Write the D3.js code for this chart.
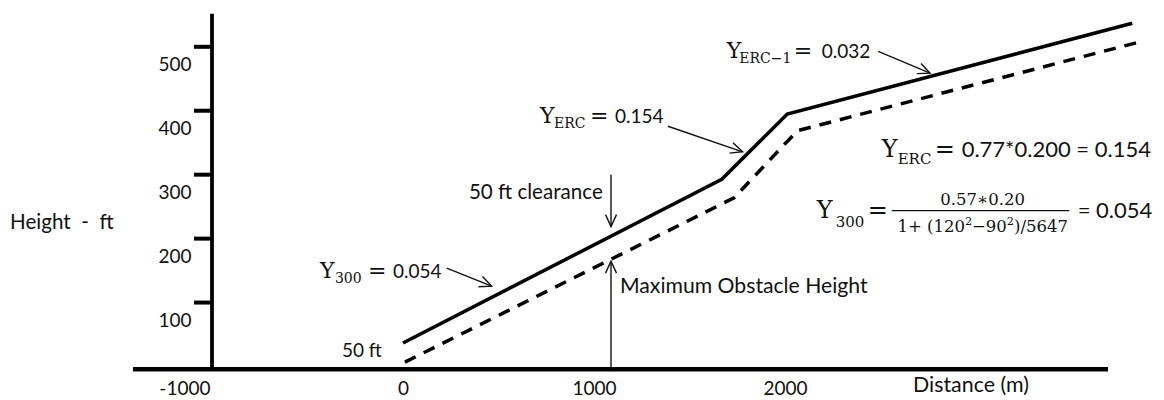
<!DOCTYPE html>
<html><head><meta charset="utf-8">
<script src="https://cdn.jsdelivr.net/npm/d3@7"></script>
<style>
body{margin:0;background:#fff}
svg{display:block}
.sans{font-family:Lato,"Open Sans",sans-serif;fill:#111}
.serif{font-family:"DejaVu Serif",serif;fill:#111}
</style>
</head><body>
<svg id="c" width="1164" height="400"></svg>
<script>
// ---------- data ----------
const yTickValues = [100, 200, 300, 400, 500];
const xTickValues = [-1000, 0, 1000, 2000];
const xTickLabels = ["-1000", "0", "1000", "2000"];
// 50 ft clearance surface (solid)
const surfaceDistance = [0, 1669, 2012, 3818];
const surfaceHeight   = [36, 292, 394, 536];
// maximum obstacle height profile (dashed)
const obstacleDistance = [10, 1733, 2065, 3845];
const obstacleHeight   = [6, 263, 368, 506];
// axis extents (data units)
const xAxisExtent = [-1414, 3691];
const yAxisExtent = [-5, 551];
// annotation arrows (data units: distance m, height ft)
const arrowFrom = [[1089, 299], [1089, -5], [229, 153], [1387, 375], [2488, 492]];
const arrowTo   = [[1089, 218], [1089, 164], [464, 125], [1778, 335], [2759, 458]];
// plain annotation labels
const noteText   = ["50 ft", "50 ft clearance", "Maximum Obstacle Height"];
const noteAt     = [[-111, 14], [345, 261], [1136, 114]];
const noteAnchor = ["end", "start", "start"];
const noteSize   = [19, 20.6, 21.2];

// ---------- scales ----------
const x = d3.scaleLinear().domain([-1000, 2000]).range([212, 785]);
const y = d3.scaleLinear().domain([0, 500]).range([366, 46.3]);

const svg = d3.select("#c");
const defs = svg.append("defs");
defs.append("marker").attr("id", "ah")
  .attr("viewBox", "-13 -7 15 14").attr("refX", 0).attr("refY", 0)
  .attr("markerUnits", "userSpaceOnUse").attr("markerWidth", 15).attr("markerHeight", 14)
  .attr("orient", "auto")
  .append("path").attr("d", "M-12,-5.5L0,0L-12,5.5")
  .attr("fill", "none").attr("stroke", "#111").attr("stroke-width", 1.4);

// ---------- axes ----------
const groundY = y(yAxisExtent[0]);
svg.append("line")
  .attr("x1", x(xAxisExtent[0])).attr("x2", x(xAxisExtent[1]))
  .attr("y1", groundY).attr("y2", groundY)
  .attr("stroke", "#000").attr("stroke-width", 4.5);
svg.append("line")
  .attr("x1", x(-1000)).attr("x2", x(-1000))
  .attr("y1", groundY).attr("y2", y(yAxisExtent[1]))
  .attr("stroke", "#000").attr("stroke-width", 3.8);

const yAxis = svg.append("g").attr("transform", `translate(${x(-1000)},0)`)
  .call(d3.axisLeft(y).tickValues(yTickValues).tickSize(18).tickSizeOuter(0).tickPadding(2.5));
yAxis.select(".domain").remove();
yAxis.selectAll(".tick line").attr("stroke", "#000").attr("stroke-width", 4);
yAxis.selectAll(".tick text").attr("font-size", 19)
  .attr("dy", null).attr("y", 24.5).style("font-family", "Lato").attr("fill", "#111");

const xAxis = svg.append("g").attr("transform", `translate(0,${groundY})`)
  .call(d3.axisBottom(x).tickValues(xTickValues).tickSize(0).tickPadding(0)
    .tickFormat((d, i) => xTickLabels[i]));
xAxis.select(".domain").remove();
xAxis.selectAll(".tick text").attr("font-size", 19).style("font-family", "Lato")
  .attr("fill", "#111").attr("dy", null).attr("y", 26)
  .attr("text-anchor", d => d === -1000 ? "end" : "middle")
  .attr("x", d => d === -1000 ? -2 : 0);

svg.append("text").attr("class", "sans").attr("x", 10).attr("y", 229)
  .attr("font-size", 20.6).style("white-space", "pre").text("Height  -  ft");
svg.append("text").attr("class", "sans").attr("x", 913).attr("y", 392)
  .attr("font-size", 21.4).text("Distance (m)");

// ---------- profiles ----------
const line = d3.line().x(d => x(d[0])).y(d => y(d[1]));
svg.append("path").datum(d3.zip(surfaceDistance, surfaceHeight))
  .attr("d", line).attr("fill", "none").attr("stroke", "#000")
  .attr("stroke-width", 3.5).attr("stroke-linejoin", "miter");
svg.append("path").datum(d3.zip(obstacleDistance, obstacleHeight))
  .attr("d", line).attr("fill", "none").attr("stroke", "#000")
  .attr("stroke-width", 3.5).attr("stroke-dasharray", "12,9");

// ---------- arrows ----------
svg.selectAll("line.arrow").data(d3.zip(arrowFrom, arrowTo)).join("line")
  .attr("class", "arrow")
  .attr("x1", d => x(d[0][0])).attr("y1", d => y(d[0][1]))
  .attr("x2", d => x(d[1][0])).attr("y2", d => y(d[1][1]))
  .attr("stroke", "#111").attr("stroke-width", 1.4).attr("marker-end", "url(#ah)");

// ---------- plain labels ----------
svg.selectAll("text.note").data(d3.zip(noteText, noteAt, noteAnchor, noteSize)).join("text")
  .attr("class", "note sans").attr("font-size", d => d[3])
  .attr("x", d => x(d[1][0])).attr("y", d => y(d[1][1]))
  .attr("text-anchor", d => d[2]).text(d => d[0]);

// ---------- math labels ----------
function mathLabel(at, parts) {
  const g = svg.append("g").attr("transform", `translate(${x(at[0])},${y(at[1])})`);
  parts.forEach(p => {
    const t = g.append("text").attr("class", p.c).attr("x", p.dx).attr("y", p.dy || 0)
      .attr("font-size", p.s);
    if (Array.isArray(p.t)) {
      p.t.forEach(seg => {
        const ts = t.append("tspan").text(seg.t);
        if (seg.sup) ts.attr("font-size", p.s * 0.68).attr("dy", -p.s * 0.4);
        else if (seg.back) ts.attr("dy", p.s * 0.4);
      });
    } else t.text(p.t);
    if (p.a) t.attr("text-anchor", p.a);
  });
  return g;
}
// Y300 = 0.054 (left)
mathLabel([-435, 137], [
  {t: "Y", c: "serif", s: 22, dx: 0},
  {t: "300", c: "serif", s: 14, dx: 15, dy: 4.5},
  {t: "=", c: "serif", s: 22, dx: 48},
  {t: "0.054", c: "sans", s: 19, dx: 73}
]);
// Y_ERC = 0.154
mathLabel([717, 380], [
  {t: "Y", c: "serif", s: 22, dx: 0},
  {t: "ERC", c: "serif", s: 14, dx: 14, dy: 5},
  {t: "=", c: "serif", s: 22, dx: 50},
  {t: "0.154", c: "sans", s: 19, dx: 75}
]);
// Y_ERC-1 = 0.032
mathLabel([1695, 481], [
  {t: "Y", c: "serif", s: 22, dx: 0},
  {t: "ERC\u22121", c: "serif", s: 14, dx: 12.5, dy: 5},
  {t: "=", c: "serif", s: 22, dx: 67},
  {t: "0.032", c: "sans", s: 19, dx: 95}
]);
// Y_ERC = 0.77*0.200 = 0.154 (right)
mathLabel([2506, 327], [
  {t: "Y", c: "serif", s: 24, dx: 0},
  {t: "ERC", c: "serif", s: 15, dx: 16, dy: 7.3},
  {t: "=", c: "serif", s: 24, dx: 53},
  {t: "0.77*0.200 = 0.154", c: "sans", s: 22, dx: 80}
]);
// Y300 fraction
const fr = mathLabel([2166, 231], [
  {t: "Y", c: "serif", s: 24, dx: 0},
  {t: "300", c: "serif", s: 15, dx: 19, dy: 8.4},
  {t: "=", c: "serif", s: 24, dx: 51},
  {t: "0.57\u22170.20", c: "serif", s: 16.5, dx: 166, dy: -13.3, a: "middle"},
  {t: [{t: "1+ (120"}, {t: "2", sup: true}, {t: "\u221290", back: true}, {t: "2", sup: true},
       {t: ")/5647", back: true}], c: "serif", s: 16.5, dx: 166, dy: 13.4, a: "middle"},
  {t: "= 0.054", c: "sans", s: 22, dx: 261}
]);
fr.append("line").attr("x1", 75).attr("x2", 252.6).attr("y1", -7.6).attr("y2", -7.6)
  .attr("stroke", "#111").attr("stroke-width", 1.3);
</script>
</body></html>
